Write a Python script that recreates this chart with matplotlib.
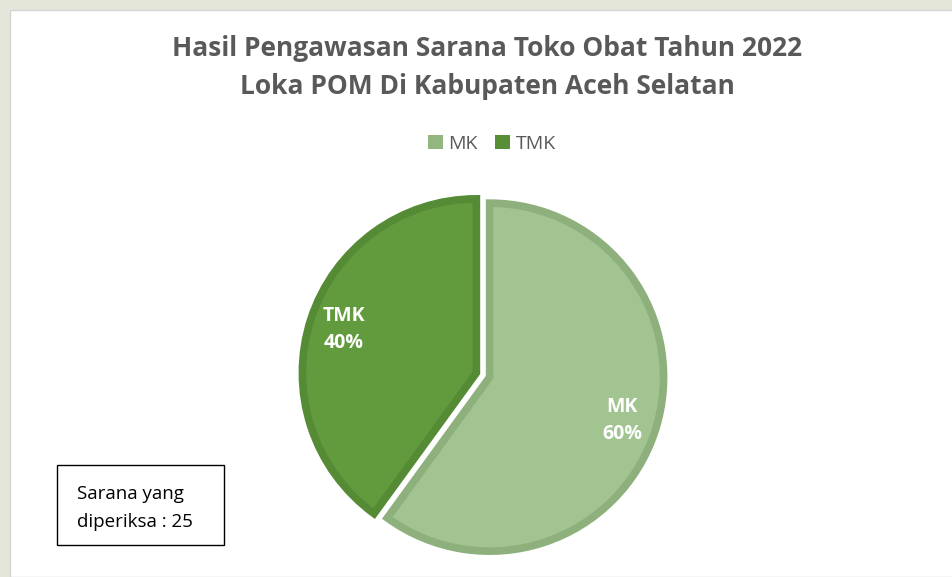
import matplotlib
matplotlib.use("Agg")
import matplotlib.pyplot as plt
from matplotlib.patches import Rectangle

# data
labels = ["MK", "TMK"]
counts = [15, 10]
fill_colors = ["#A1C490", "#629A3E"]
edge_colors = ["#8DB07C", "#568B35"]
legend_colors = ["#93B580", "#588E36"]
title_lines = ["Hasil Pengawasan Sarana Toko Obat Tahun 2022",
               "Loka POM Di Kabupaten Aceh Selatan"]
note_text = "Sarana yang\ndiperiksa : 25"

W, H = 953, 577
fig = plt.figure(figsize=(W / 100, H / 100), dpi=100)
fig.patch.set_facecolor("#E4E6DA")
plt.rcParams["font.family"] = ["Open Sans", "DejaVu Sans"]

# white chart panel
fig.patches.append(Rectangle((10 / W, 0), 1, 1 - 10 / H, transform=fig.transFigure,
                             facecolor="white", edgecolor="#D4D4D4", lw=1, zorder=0))

# pie axes: whole figure, 1 unit = pie radius in px
cx, cy, r = 483, 375, 174
ax = fig.add_axes([0, 0, 1, 1], zorder=1)
ax.patch.set_alpha(0)
total = sum(counts)
pie_labels = [f"{l}\n{round(c * 100 / total)}%" for l, c in zip(labels, counts)]
wedges, texts = ax.pie(counts, colors=fill_colors, startangle=90, counterclock=False,
                       explode=[0.04, 0.04], labels=pie_labels, labeldistance=0.8,
                       wedgeprops=dict(linewidth=5.5))
for w, ec in zip(wedges, edge_colors):
    w.set_edgecolor(ec)
    w.set_joinstyle("miter")
for t in texts:
    t.set_color("white")
    t.set_fontweight("bold")
    t.set_fontsize(14)
    t.set_ha("center")
    t.set_va("center")
    t.set_linespacing(1.45)
ax.set_aspect("auto")
ax.set_xlim(-cx / r, (W - cx) / r)
ax.set_ylim(-(H - cy) / r, cy / r)
ax.axis("off")

# title
fig.text(487 / W, 1 - 49 / H, title_lines[0], ha="center", va="center",
         fontsize=19, fontweight="bold", color="#595959", zorder=3)
fig.text(487 / W, 1 - 86 / H, title_lines[1], ha="center", va="center",
         fontsize=19, fontweight="bold", color="#595959", zorder=3)

# legend
handles = [Rectangle((0, 0), 1, 1, facecolor=c, edgecolor="none") for c in legend_colors]
leg = fig.legend(handles, labels, loc="center", bbox_to_anchor=(492 / W, 1 - 144 / H),
                 ncol=2, frameon=False, handlelength=0.75, handleheight=0.75,
                 handletextpad=0.3, columnspacing=0.9,
                 prop=dict(size=14), labelcolor="#595959")
leg.set_zorder(3)

# note box
fig.patches.append(Rectangle((57 / W, 1 - 545 / H), (224 - 57) / W, (545 - 465) / H,
                             transform=fig.transFigure, facecolor="white",
                             edgecolor="black", lw=1, zorder=2))
fig.text(77 / W, 1 - 508 / H, note_text, ha="left", va="center",
         fontsize=13.5, color="black", linespacing=1.7, zorder=3)

fig.savefig("out.png", dpi=100, facecolor=fig.get_facecolor())
